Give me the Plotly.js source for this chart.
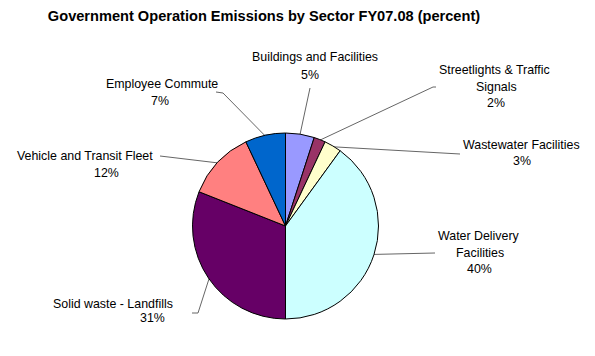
<!DOCTYPE html>
<html>
<head>
<meta charset="utf-8">
<script src="https://cdn.plot.ly/plotly-3.0.1.min.js"></script>
<style>html,body{margin:0;padding:0;background:#fff;}#chart{width:595px;height:356px;}</style>
</head>
<body>
<div id="chart"></div>
<script>
// ---- data ----
const sectors = ["Buildings and Facilities", "Streetlights & Traffic Signals", "Wastewater Facilities",
  "Water Delivery Facilities", "Solid waste - Landfills", "Vehicle and Transit Fleet", "Employee Commute"];
const percents = [5, 2, 3, 40, 31, 12, 7];
const colors = ["#9999FF", "#993366", "#FFFFCC", "#CCFFFF", "#660066", "#FF8080", "#0066CC"];

// ---- layout helpers (pixels) ----
const W = 595, H = 356;
const cx = 285.5, cy = 226, R = 93;
const px = x => x / W, py = y => 1 - y / H;

// label layout: name lines with their pixel centers, percent center, leader-line end (label side)
const labelLayout = [
  {lines: [["Buildings and Facilities", 315, 57]], pct: [310, 75], elbow: [[310, 88]]},
  {lines: [["Streetlights & Traffic", 494, 70], ["Signals", 496, 87]], pct: [496, 103], elbow: [[433, 87], [436, 87]]},
  {lines: [["Wastewater Facilities", 521, 145]], pct: [522, 161], elbow: [[460, 154]]},
  {lines: [["Water Delivery", 479, 236], ["Facilities", 480, 253]], pct: [479, 269], elbow: [[435, 253]]},
  {lines: [["Solid waste - Landfills", 113, 304]], pct: [152, 318], elbow: [[198, 313], [192, 313]]},
  {lines: [["Vehicle and Transit Fleet", 85, 156]], pct: [106, 173], elbow: [[160, 156]]},
  {lines: [["Employee Commute", 162, 84]], pct: [160, 101], elbow: [[223, 93], [216, 92]]}
];

const total = percents.reduce((a, b) => a + b, 0);
const font = {family: "Arial, 'Liberation Sans', sans-serif", size: 12.4, color: "#000"};
const annotations = [];
const shapes = [];
let cum = 0;
percents.forEach((v, i) => {
  const mid = (cum + v / 2) / total;
  cum += v;
  const ang = mid * 2 * Math.PI;
  const ex = cx + R * 0.99 * Math.sin(ang), ey = cy - R * 0.99 * Math.cos(ang);
  const L = labelLayout[i];
  L.lines.forEach(([t, x, y]) => annotations.push({text: t, x: px(x), y: py(y), xref: "paper", yref: "paper",
    xanchor: "center", yanchor: "middle", showarrow: false, font: font}));
  annotations.push({text: v + "%", x: px(L.pct[0]), y: py(L.pct[1]), xref: "paper", yref: "paper",
    xanchor: "center", yanchor: "middle", showarrow: false, font: font});
  let pts = [[ex, ey]].concat(L.elbow);
  for (let k = 0; k < pts.length - 1; k++) {
    shapes.push({type: "line", xref: "paper", yref: "paper",
      x0: px(pts[k][0]), y0: py(pts[k][1]), x1: px(pts[k + 1][0]), y1: py(pts[k + 1][1]),
      line: {color: "#666", width: 1}, layer: "below"});
  }
});

const trace = {
  type: "pie", labels: sectors, values: percents, sort: false, direction: "clockwise", rotation: 0,
  marker: {colors: colors, line: {color: "#000", width: 1}},
  textinfo: "none", hoverinfo: "label+percent",
  domain: {x: [px(cx - R), px(cx + R)], y: [py(cy + R), py(cy - R)]}
};

const layout = {
  width: W, height: H, margin: {l: 0, r: 0, t: 0, b: 0},
  paper_bgcolor: "#fff", plot_bgcolor: "#fff", showlegend: false,
  title: {text: "<b>Government Operation Emissions by Sector FY07.08 (percent)</b>",
    x: px(264), xanchor: "center", xref: "paper", y: py(16), yanchor: "middle", yref: "paper",
    font: {family: "Arial, 'Liberation Sans', sans-serif", size: 14.6, color: "#000"}},
  annotations: annotations, shapes: shapes
};

Plotly.newPlot("chart", [trace], layout, {displayModeBar: false, staticPlot: true});
</script>
</body>
</html>
